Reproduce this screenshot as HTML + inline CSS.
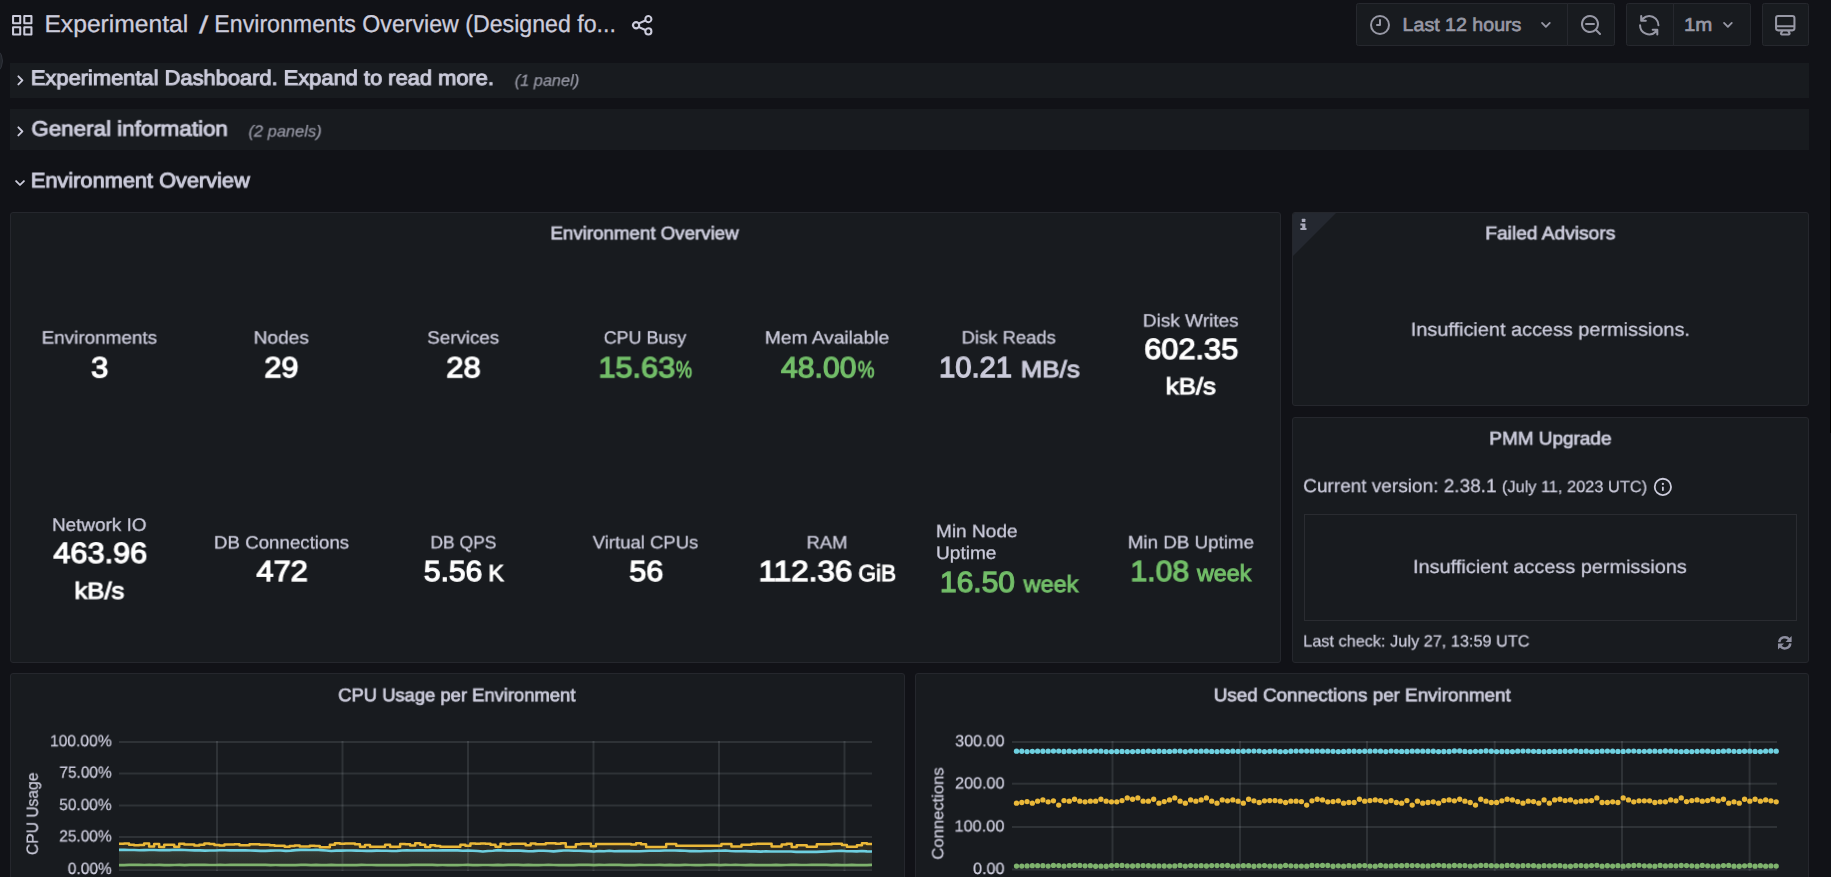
<!DOCTYPE html>
<html lang="en"><head><meta charset="utf-8"><title>Experimental / Environments Overview - Grafana</title>
<style>
html,body{margin:0;padding:0;width:1831px;height:877px;overflow:hidden;background:#111217}
body{position:relative;font-family:"Liberation Sans",sans-serif;color:rgb(204,204,220)}
.t{position:absolute;left:0;top:0;white-space:pre;line-height:1;transform-origin:0 0;text-rendering:geometricPrecision}
.p{position:absolute;box-sizing:border-box;background:#181b1f;border:1px solid #25272d;border-radius:3px}
.row{position:absolute;left:10px;width:1799px;background:#181b1f}
.btn{position:absolute;top:3px;height:43px;box-sizing:border-box;background:#181b1f;border:1px solid #26282e}
.ic{position:absolute;fill:currentColor}
.g{position:absolute;background:#2f3236}

</style></head><body>
<div style="position:absolute;left:-29px;top:45px;width:32px;height:32px;border-radius:16px;background:#22252b;border:1px solid #2f323a;box-sizing:border-box"></div>
<svg class="ic" style="left:9.75px;top:12.75px;color:rgb(204,204,220)" width="24.5" height="24.5" viewBox="0 0 24 24"><path d="M10,13H3a1,1,0,0,0-1,1v7a1,1,0,0,0,1,1h7a1,1,0,0,0,1-1V14A1,1,0,0,0,10,13ZM9,20H4V15H9ZM21,2H14a1,1,0,0,0-1,1v7a1,1,0,0,0,1,1h7a1,1,0,0,0,1-1V3A1,1,0,0,0,21,2ZM20,9H15V4h5Zm1,4H14a1,1,0,0,0-1,1v7a1,1,0,0,0,1,1h7a1,1,0,0,0,1-1V14A1,1,0,0,0,21,13Zm-1,7H15V15h5ZM10,2H3A1,1,0,0,0,2,3v7a1,1,0,0,0,1,1h7a1,1,0,0,0,1-1V3A1,1,0,0,0,10,2ZM9,9H4V4H9Z"/></svg>
<svg class="ic" style="left:630.25px;top:12.75px;color:rgb(204,204,220)" width="24.5" height="24.5" viewBox="0 0 24 24"><path d="M18,14a4,4,0,0,0-3.08,1.48l-5.1-2.35a3.64,3.64,0,0,0,0-2.26l5.1-2.35A4,4,0,1,0,14,6a4.17,4.17,0,0,0,.07.71L8.79,9.14a4,4,0,1,0,0,5.72l5.28,2.43A4.17,4.17,0,0,0,14,18a4,4,0,1,0,4-4ZM18,4a2,2,0,1,1-2,2A2,2,0,0,1,18,4ZM6,14a2,2,0,1,1,2-2A2,2,0,0,1,6,14Zm12,6a2,2,0,1,1,2-2A2,2,0,0,1,18,20Z"/></svg>
<div class="btn" style="left:1356px;width:212px;border-radius:2.5px 0 0 2.5px"></div>
<div class="btn" style="left:1567px;width:48px;border-radius:0 2.5px 2.5px 0"></div>
<div class="btn" style="left:1626px;width:48px;border-radius:2.5px 0 0 2.5px"></div>
<div class="btn" style="left:1673px;width:78px;border-radius:0 2.5px 2.5px 0"></div>
<div class="btn" style="left:1762px;width:47px;border-radius:2.5px"></div>
<svg class="ic" style="left:1368px;top:12.9px;color:rgb(151,152,165)" width="24" height="24" viewBox="0 0 24 24"><path d="M12,2A10,10,0,1,0,22,12,10.01114,10.01114,0,0,0,12,2Zm0,18a8,8,0,1,1,8-8A8.00917,8.00917,0,0,1,12,20ZM12,6a.99974.99974,0,0,0-1,1v4H9a1,1,0,0,0,0,2h3a.99974.99974,0,0,0,1-1V7A.99974.99974,0,0,0,12,6Z"/></svg>
<svg class="ic" style="left:1534.72px;top:13.97px;color:rgb(151,152,165)" width="21.76" height="21.76" viewBox="0 0 24 24"><path d="M17,9.17a1,1,0,0,0-1.41,0L12,12.71,8.46,9.17a1,1,0,0,0-1.41,0,1,1,0,0,0,0,1.42l4.24,4.24a1,1,0,0,0,1.42,0L17,10.59A1,1,0,0,0,17,9.17Z"/></svg>
<svg class="ic" style="left:1579px;top:13.1px;color:rgb(151,152,165)" width="24" height="24" viewBox="0 0 24 24"><path d="M21.71,20.29,18,16.61A9,9,0,1,0,16.61,18l3.68,3.68a1,1,0,0,0,1.42,0A1,1,0,0,0,21.71,20.29ZM11,18a7,7,0,1,1,7-7A7,7,0,0,1,11,18Zm4-8H7a1,1,0,0,0,0,2h8a1,1,0,0,0,0-2Z"/></svg>
<svg class="ic" style="left:1637.15px;top:12.65px;color:rgb(151,152,165)" width="24.5" height="24.5" viewBox="0 0 24 24"><path d="M19.91,15.51H15.38a1,1,0,0,0,0,2h2.4A8,8,0,0,1,4,12a1,1,0,0,0-2,0,10,10,0,0,0,16.88,7.23V21a1,1,0,0,0,2,0V16.5A1,1,0,0,0,19.91,15.51ZM12,2A10,10,0,0,0,5.12,4.77V3a1,1,0,0,0-2,0V7.5a1,1,0,0,0,1,1h4.5a1,1,0,0,0,0-2H6.22A8,8,0,0,1,20,12a1,1,0,0,0,2,0A10,10,0,0,0,12,2Z"/></svg>
<svg class="ic" style="left:1717.32px;top:14.12px;color:rgb(151,152,165)" width="21.76" height="21.76" viewBox="0 0 24 24"><path d="M17,9.17a1,1,0,0,0-1.41,0L12,12.71,8.46,9.17a1,1,0,0,0-1.41,0,1,1,0,0,0,0,1.42l4.24,4.24a1,1,0,0,0,1.42,0L17,10.59A1,1,0,0,0,17,9.17Z"/></svg>
<svg class="ic" style="left:1773.25px;top:12.75px;color:rgb(151,152,165)" width="24.5" height="24.5" viewBox="0 0 24 24"><path d="M19,2H5A3,3,0,0,0,2,5V15a3,3,0,0,0,3,3H7.64l-.58,1a2,2,0,0,0,0,2,2,2,0,0,0,1.75,1h6.46A2,2,0,0,0,17,21a2,2,0,0,0,0-2l-.59-1H19a3,3,0,0,0,3-3V5A3,3,0,0,0,19,2ZM8.77,20,10,18H14l1.2,2ZM20,15a1,1,0,0,1-1,1H5a1,1,0,0,1-1-1V14H20Zm0-3H4V5A1,1,0,0,1,5,4H19a1,1,0,0,1,1,1Z"/></svg>
<div class="row" style="top:63px;height:35px"></div>
<div class="row" style="top:109px;height:41px"></div>
<svg class="ic" style="left:8.95px;top:68.6px;color:rgb(204,204,220)" width="22.8" height="22.8" viewBox="0 0 24 24"><path d="M14.83,11.29,10.59,7.05a1,1,0,0,0-1.42,0,1,1,0,0,0,0,1.41L12.71,12,9.17,15.54a1,1,0,0,0,0,1.41,1,1,0,0,0,.71.29,1,1,0,0,0,.71-.29l4.24-4.24A1,1,0,0,0,14.83,11.29Z"/></svg>
<svg class="ic" style="left:8.95px;top:119.9px;color:rgb(204,204,220)" width="22.8" height="22.8" viewBox="0 0 24 24"><path d="M14.83,11.29,10.59,7.05a1,1,0,0,0-1.42,0,1,1,0,0,0,0,1.41L12.71,12,9.17,15.54a1,1,0,0,0,0,1.41,1,1,0,0,0,.71.29,1,1,0,0,0,.71-.29l4.24-4.24A1,1,0,0,0,14.83,11.29Z"/></svg>
<svg class="ic" style="left:9.4px;top:171.7px;color:rgb(204,204,220)" width="22" height="22" viewBox="0 0 24 24"><path d="M17,9.17a1,1,0,0,0-1.41,0L12,12.71,8.46,9.17a1,1,0,0,0-1.41,0,1,1,0,0,0,0,1.42l4.24,4.24a1,1,0,0,0,1.42,0L17,10.59A1,1,0,0,0,17,9.17Z"/></svg>
<div class="p" style="left:10px;top:212px;width:1271px;height:451px"></div>
<div class="p" style="left:1292px;top:212px;width:517px;height:194px;overflow:hidden"><svg style="position:absolute;left:-1px;top:-1px" width="46" height="46" viewBox="0 0 46 46"><path d="M0,0H45L0,45Z" fill="#242830"/><g fill="#a9aabb"><rect x="9.8" y="6.8" width="3.6" height="3.1" rx="0.5"/><path d="M8.4,11.4H13.4V16H14.5V18H8.4V16H10.2V13.4H8.4Z"/></g></svg></div>
<div class="p" style="left:1292px;top:417px;width:517px;height:246px"></div>
<div style="position:absolute;box-sizing:border-box;left:1304px;top:514px;width:493px;height:107px;border:1px solid #2a2c31"></div>
<svg class="ic" style="left:1651.92px;top:476.22px;color:rgb(204,204,220)" width="21.76" height="21.76" viewBox="0 0 24 24"><path d="M12,2A10,10,0,1,0,22,12,10.01114,10.01114,0,0,0,12,2Zm0,18a8,8,0,1,1,8-8A8.00917,8.00917,0,0,1,12,20Zm0-8.5a1,1,0,0,0-1,1v3a1,1,0,0,0,2,0v-3A1,1,0,0,0,12,11.5Zm0-4a1.25,1.25,0,1,0,1.25,1.25A1.25,1.25,0,0,0,12,7.5Z"/></svg>
<svg style="position:absolute;left:1777.4px;top:635.3px" width="15.6" height="15.6" viewBox="0 0 16 16"><g fill="none" stroke="#8e8fa0" stroke-width="2.5"><path d="M2.3,7.4A5.75,5.75 0 0 1 12.4,4.3"/><path d="M13.7,8.6A5.75,5.75 0 0 1 3.6,11.7"/></g><g fill="#8e8fa0"><path d="M15,1V7.2H8.8Z"/><path d="M1,15V8.8H7.2Z"/></g></svg>
<div class="p" style="left:10px;top:673px;width:895px;height:260px"></div>
<div class="p" style="left:915px;top:673px;width:894px;height:260px"></div>
<svg style="position:absolute;left:0;top:700px" width="1831" height="177" viewBox="0 700 1831 177">
<rect x="119" y="741" width="753" height="2" fill="rgb(240,250,255)" fill-opacity="0.105"/>
<rect x="119" y="772.5" width="753" height="2" fill="rgb(240,250,255)" fill-opacity="0.105"/>
<rect x="119" y="804.5" width="753" height="2" fill="rgb(240,250,255)" fill-opacity="0.105"/>
<rect x="119" y="836" width="753" height="2" fill="rgb(240,250,255)" fill-opacity="0.105"/>
<rect x="119" y="869" width="753" height="2" fill="rgb(240,250,255)" fill-opacity="0.105"/>
<rect x="216" y="741" width="2" height="130" fill="rgb(240,250,255)" fill-opacity="0.105"/>
<rect x="341.5" y="741" width="2" height="130" fill="rgb(240,250,255)" fill-opacity="0.105"/>
<rect x="467" y="741" width="2" height="130" fill="rgb(240,250,255)" fill-opacity="0.105"/>
<rect x="592.5" y="741" width="2" height="130" fill="rgb(240,250,255)" fill-opacity="0.105"/>
<rect x="718" y="741" width="2" height="130" fill="rgb(240,250,255)" fill-opacity="0.105"/>
<rect x="843.5" y="741" width="2" height="130" fill="rgb(240,250,255)" fill-opacity="0.105"/>
<defs><linearGradient id="gy" x1="0" y1="843" x2="0" y2="870" gradientUnits="userSpaceOnUse"><stop offset="0" stop-color="#eab839" stop-opacity="0.115"/><stop offset="1" stop-color="#eab839" stop-opacity="0.05"/></linearGradient><linearGradient id="gc" x1="0" y1="850" x2="0" y2="870" gradientUnits="userSpaceOnUse"><stop offset="0" stop-color="#6ed0e0" stop-opacity="0.10"/><stop offset="1" stop-color="#6ed0e0" stop-opacity="0.04"/></linearGradient></defs><path d="M119,843.8V843.8H124.02V843.49H129.04V844.66H134.06V845.23H139.08V844.93H144.1V843.56H149.12V846.51H154.14V844.09H159.16V846.99H164.18V844.79H169.2V844.79H174.22V846.63H179.24V843.78H184.26V844.43H189.28V844.43H194.3V845.53H199.32V844.69H204.34V843.45H209.36V844.02H214.38V844.91H219.4V845.54H224.42V844.4H229.44V844.4H234.46V844.18H239.48V845.3H244.5V845.3H249.52V844.35H254.54V844.35H259.56V844.87H264.58V844.87H269.6V845.16H274.62V845.87H279.64V845.87H284.66V846.7H289.68V845.98H294.7V845.52H299.72V846.56H304.74V846.56H309.76V845.86H314.78V846.01H319.8V847.17H324.82V847.17H329.84V844.74H334.86V843.29H339.88V843.87H344.9V843.44H349.92V843.44H354.94V844.19H359.96V846.69H364.98V845H370V846.73H375.02V846.73H380.04V846.73H385.06V844.86H390.08V846.74H395.1V846.74H400.12V843.9H405.14V844.13H410.16V845.56H415.18V843.22H420.2V844.68H425.22V847.01H430.24V845.26H435.26V845.9H440.28V846.8H445.3V846.8H450.32V846.8H455.34V846.8H460.36V844.8H465.38V845.74H470.4V843.47H475.42V843.85H480.44V843.41H485.46V843.81H490.48V844.65H495.5V846.7H500.52V843.79H505.54V844.59H510.56V843.69H515.58V843.69H520.6V843.69H525.62V845.14H530.64V843.61H535.66V844.26H540.68V844.26H545.7V843.29H550.72V843.29H555.74V843.79H560.76V843.31H565.78V847.11H570.8V847.11H575.82V844.24H580.84V843.87H585.86V843.87H590.88V846.32H595.9V844.09H600.92V844.09H605.94V844.09H610.96V844.09H615.98V844.09H621V844.09H626.02V844.11H631.04V844.62H636.06V843.31H641.08V844.24H646.1V847.03H651.12V846.95H656.14V846.95H661.16V846.95H666.18V844.08H671.2V843.99H676.22V845.7H681.24V845.7H686.26V845.7H691.28V845.81H696.3V845.81H701.32V845.84H706.34V845.84H711.36V845.84H716.38V845.84H721.4V843.91H726.42V843.91H731.44V846.4H736.46V846.4H741.48V844.81H746.5V844.81H751.52V843.88H756.54V843.8H761.56V843.8H766.58V843.8H771.6V846.51H776.62V846.51H781.64V844.6H786.66V843.72H791.68V847.08H796.7V845.31H801.72V845.31H806.74V846.69H811.76V846.69H816.78V844.21H821.8V844.16H826.82V844.24H831.84V843.72H836.86V843.72H841.88V845.03H846.9V846.82H851.92V846.87H856.94V845.33H861.96V843.27H866.98V843.93H872V870H119Z" fill="url(#gy)"/><path d="M119,849.83L124.05,849.7L129.11,849.99L134.16,849.95L139.21,850.2L144.27,850.12L149.32,850L154.38,850.02L159.43,850.3L164.48,850.06L169.54,850.08L174.59,849.77L179.64,849.88L184.7,850.02L189.75,850.18L194.81,850.37L199.86,850.37L204.91,850.62L209.97,850.56L215.02,850.48L220.07,850.25L225.13,850.3L230.18,850.36L235.23,850.34L240.29,850.36L245.34,850.25L250.4,850.55L255.45,850.66L260.5,850.91L265.56,850.92L270.61,850.67L275.66,850.49L280.72,850.5L285.77,850.86L290.83,850.62L295.88,850.14L300.93,849.91L305.99,849.88L311.04,849.96L316.09,849.75L321.15,850.12L326.2,850.46L331.26,850.96L336.31,850.66L341.36,850.63L346.42,850.5L351.47,850.51L356.52,850.62L361.58,850.81L366.63,850.87L371.68,850.92L376.74,850.59L381.79,850.76L386.85,850.79L391.9,851.07L396.95,850.88L402.01,850.56L407.06,850.38L412.11,850.49L417.17,850.36L422.22,850.26L427.28,850.5L432.33,850.4L437.38,850.55L442.44,850.4L447.49,850.41L452.54,850.28L457.6,850.4L462.65,850.71L467.7,850.56L472.76,850.79L477.81,850.97L482.87,851.52L487.92,851L492.97,850.7L498.03,850.15L503.08,850.57L508.13,850.58L513.19,850.64L518.24,850.44L523.3,850.84L528.35,851.26L533.4,851.17L538.46,850.73L543.51,850.8L548.56,851L553.62,851.34L558.67,850.85L563.72,850.55L568.78,850.56L573.83,850.77L578.89,850.79L583.94,850.95L588.99,851.09L594.05,851.53L599.1,851.03L604.15,851.18L609.21,850.75L614.26,851.22L619.32,850.99L624.37,851.17L629.42,850.99L634.48,851.29L639.53,851.25L644.58,851.01L649.64,850.78L654.69,850.78L659.74,850.77L664.8,850.57L669.85,850.46L674.91,850.53L679.96,850.63L685.01,850.79L690.07,851.14L695.12,851.14L700.17,851.26L705.23,850.93L710.28,850.97L715.34,850.69L720.39,850.75L725.44,850.56L730.5,851L735.55,851.19L740.6,851.3L745.66,851.16L750.71,851.4L755.77,851.36L760.82,851.58L765.87,851.29L770.93,851.53L775.98,851.55L781.03,851.54L786.09,851.56L791.14,851.48L796.19,851.85L801.25,851.76L806.3,851.85L811.36,851.7L816.41,851.89L821.46,851.64L826.52,851.44L831.57,851.1L836.62,850.94L841.68,850.79L846.73,851.21L851.79,851.3L856.84,851.36L861.89,850.98L866.95,851.34L872,851.53V870H119Z" fill="url(#gc)"/><path d="M119,865.11L124.05,865.05L129.11,864.93L134.16,864.92L139.21,864.94L144.27,864.99L149.32,864.9L154.38,864.98L159.43,864.93L164.48,865.14L169.54,865.14L174.59,865.01L179.64,864.92L184.7,865.14L189.75,864.94L194.81,864.96L199.86,864.85L204.91,864.96L209.97,864.99L215.02,865L220.07,864.91L225.13,865L230.18,864.85L235.23,864.93L240.29,864.88L245.34,864.97L250.4,864.86L255.45,864.86L260.5,864.94L265.56,864.92L270.61,865.03L275.66,865.01L280.72,865.08L285.77,865.05L290.83,865.06L295.88,865.11L300.93,864.97L305.99,864.95L311.04,865.15L316.09,864.89L321.15,865.07L326.2,865.04L331.26,864.86L336.31,865.1L341.36,865.12L346.42,865.04L351.47,865.07L356.52,865.09L361.58,864.89L366.63,865.01L371.68,865L376.74,865.1L381.79,865.09L386.85,865.1L391.9,865.03L396.95,865.12L402.01,865.05L407.06,865.06L412.11,864.92L417.17,864.86L422.22,864.89L427.28,864.96L432.33,864.88L437.38,865.1L442.44,865.02L447.49,865.04L452.54,865.04L457.6,865.05L462.65,865L467.7,864.85L472.76,865.09L477.81,865.07L482.87,865L487.92,865.01L492.97,865.05L498.03,864.87L503.08,865.07L508.13,864.93L513.19,864.87L518.24,864.93L523.3,865.07L528.35,864.91L533.4,865.07L538.46,865.14L543.51,865L548.56,864.96L553.62,864.99L558.67,865.06L563.72,865.08L568.78,865.04L573.83,865.04L578.89,864.87L583.94,864.89L588.99,864.93L594.05,865.07L599.1,864.94L604.15,865.02L609.21,864.85L614.26,864.87L619.32,864.93L624.37,865.05L629.42,865.06L634.48,865.05L639.53,864.94L644.58,865L649.64,864.99L654.69,864.99L659.74,864.89L664.8,865.12L669.85,864.91L674.91,865.14L679.96,865.13L685.01,864.86L690.07,864.99L695.12,865.1L700.17,865.14L705.23,864.98L710.28,864.93L715.34,864.91L720.39,865.13L725.44,864.91L730.5,865.02L735.55,864.89L740.6,865.01L745.66,865.14L750.71,864.89L755.77,865.1L760.82,865L765.87,865.12L770.93,865.06L775.98,864.92L781.03,865.12L786.09,865L791.14,864.86L796.19,864.85L801.25,865L806.3,864.99L811.36,864.94L816.41,864.89L821.46,864.95L826.52,864.94L831.57,865.1L836.62,864.85L841.68,865.08L846.73,865.1L851.79,864.89L856.84,865.13L861.89,865.06L866.95,865.12L872,864.94V870H119Z" fill="#181b1f" fill-opacity="0.45"/><path d="M119,843.8V843.8H124.02V843.49H129.04V844.66H134.06V845.23H139.08V844.93H144.1V843.56H149.12V846.51H154.14V844.09H159.16V846.99H164.18V844.79H169.2V844.79H174.22V846.63H179.24V843.78H184.26V844.43H189.28V844.43H194.3V845.53H199.32V844.69H204.34V843.45H209.36V844.02H214.38V844.91H219.4V845.54H224.42V844.4H229.44V844.4H234.46V844.18H239.48V845.3H244.5V845.3H249.52V844.35H254.54V844.35H259.56V844.87H264.58V844.87H269.6V845.16H274.62V845.87H279.64V845.87H284.66V846.7H289.68V845.98H294.7V845.52H299.72V846.56H304.74V846.56H309.76V845.86H314.78V846.01H319.8V847.17H324.82V847.17H329.84V844.74H334.86V843.29H339.88V843.87H344.9V843.44H349.92V843.44H354.94V844.19H359.96V846.69H364.98V845H370V846.73H375.02V846.73H380.04V846.73H385.06V844.86H390.08V846.74H395.1V846.74H400.12V843.9H405.14V844.13H410.16V845.56H415.18V843.22H420.2V844.68H425.22V847.01H430.24V845.26H435.26V845.9H440.28V846.8H445.3V846.8H450.32V846.8H455.34V846.8H460.36V844.8H465.38V845.74H470.4V843.47H475.42V843.85H480.44V843.41H485.46V843.81H490.48V844.65H495.5V846.7H500.52V843.79H505.54V844.59H510.56V843.69H515.58V843.69H520.6V843.69H525.62V845.14H530.64V843.61H535.66V844.26H540.68V844.26H545.7V843.29H550.72V843.29H555.74V843.79H560.76V843.31H565.78V847.11H570.8V847.11H575.82V844.24H580.84V843.87H585.86V843.87H590.88V846.32H595.9V844.09H600.92V844.09H605.94V844.09H610.96V844.09H615.98V844.09H621V844.09H626.02V844.11H631.04V844.62H636.06V843.31H641.08V844.24H646.1V847.03H651.12V846.95H656.14V846.95H661.16V846.95H666.18V844.08H671.2V843.99H676.22V845.7H681.24V845.7H686.26V845.7H691.28V845.81H696.3V845.81H701.32V845.84H706.34V845.84H711.36V845.84H716.38V845.84H721.4V843.91H726.42V843.91H731.44V846.4H736.46V846.4H741.48V844.81H746.5V844.81H751.52V843.88H756.54V843.8H761.56V843.8H766.58V843.8H771.6V846.51H776.62V846.51H781.64V844.6H786.66V843.72H791.68V847.08H796.7V845.31H801.72V845.31H806.74V846.69H811.76V846.69H816.78V844.21H821.8V844.16H826.82V844.24H831.84V843.72H836.86V843.72H841.88V845.03H846.9V846.82H851.92V846.87H856.94V845.33H861.96V843.27H866.98V843.93H872" fill="none" stroke="#eab839" stroke-width="2.5" stroke-linejoin="round"/><path d="M119,849.83L124.05,849.7L129.11,849.99L134.16,849.95L139.21,850.2L144.27,850.12L149.32,850L154.38,850.02L159.43,850.3L164.48,850.06L169.54,850.08L174.59,849.77L179.64,849.88L184.7,850.02L189.75,850.18L194.81,850.37L199.86,850.37L204.91,850.62L209.97,850.56L215.02,850.48L220.07,850.25L225.13,850.3L230.18,850.36L235.23,850.34L240.29,850.36L245.34,850.25L250.4,850.55L255.45,850.66L260.5,850.91L265.56,850.92L270.61,850.67L275.66,850.49L280.72,850.5L285.77,850.86L290.83,850.62L295.88,850.14L300.93,849.91L305.99,849.88L311.04,849.96L316.09,849.75L321.15,850.12L326.2,850.46L331.26,850.96L336.31,850.66L341.36,850.63L346.42,850.5L351.47,850.51L356.52,850.62L361.58,850.81L366.63,850.87L371.68,850.92L376.74,850.59L381.79,850.76L386.85,850.79L391.9,851.07L396.95,850.88L402.01,850.56L407.06,850.38L412.11,850.49L417.17,850.36L422.22,850.26L427.28,850.5L432.33,850.4L437.38,850.55L442.44,850.4L447.49,850.41L452.54,850.28L457.6,850.4L462.65,850.71L467.7,850.56L472.76,850.79L477.81,850.97L482.87,851.52L487.92,851L492.97,850.7L498.03,850.15L503.08,850.57L508.13,850.58L513.19,850.64L518.24,850.44L523.3,850.84L528.35,851.26L533.4,851.17L538.46,850.73L543.51,850.8L548.56,851L553.62,851.34L558.67,850.85L563.72,850.55L568.78,850.56L573.83,850.77L578.89,850.79L583.94,850.95L588.99,851.09L594.05,851.53L599.1,851.03L604.15,851.18L609.21,850.75L614.26,851.22L619.32,850.99L624.37,851.17L629.42,850.99L634.48,851.29L639.53,851.25L644.58,851.01L649.64,850.78L654.69,850.78L659.74,850.77L664.8,850.57L669.85,850.46L674.91,850.53L679.96,850.63L685.01,850.79L690.07,851.14L695.12,851.14L700.17,851.26L705.23,850.93L710.28,850.97L715.34,850.69L720.39,850.75L725.44,850.56L730.5,851L735.55,851.19L740.6,851.3L745.66,851.16L750.71,851.4L755.77,851.36L760.82,851.58L765.87,851.29L770.93,851.53L775.98,851.55L781.03,851.54L786.09,851.56L791.14,851.48L796.19,851.85L801.25,851.76L806.3,851.85L811.36,851.7L816.41,851.89L821.46,851.64L826.52,851.44L831.57,851.1L836.62,850.94L841.68,850.79L846.73,851.21L851.79,851.3L856.84,851.36L861.89,850.98L866.95,851.34L872,851.53" fill="none" stroke="#6ed0e0" stroke-width="2.6" stroke-linejoin="round"/><path d="M119,865.11L124.05,865.05L129.11,864.93L134.16,864.92L139.21,864.94L144.27,864.99L149.32,864.9L154.38,864.98L159.43,864.93L164.48,865.14L169.54,865.14L174.59,865.01L179.64,864.92L184.7,865.14L189.75,864.94L194.81,864.96L199.86,864.85L204.91,864.96L209.97,864.99L215.02,865L220.07,864.91L225.13,865L230.18,864.85L235.23,864.93L240.29,864.88L245.34,864.97L250.4,864.86L255.45,864.86L260.5,864.94L265.56,864.92L270.61,865.03L275.66,865.01L280.72,865.08L285.77,865.05L290.83,865.06L295.88,865.11L300.93,864.97L305.99,864.95L311.04,865.15L316.09,864.89L321.15,865.07L326.2,865.04L331.26,864.86L336.31,865.1L341.36,865.12L346.42,865.04L351.47,865.07L356.52,865.09L361.58,864.89L366.63,865.01L371.68,865L376.74,865.1L381.79,865.09L386.85,865.1L391.9,865.03L396.95,865.12L402.01,865.05L407.06,865.06L412.11,864.92L417.17,864.86L422.22,864.89L427.28,864.96L432.33,864.88L437.38,865.1L442.44,865.02L447.49,865.04L452.54,865.04L457.6,865.05L462.65,865L467.7,864.85L472.76,865.09L477.81,865.07L482.87,865L487.92,865.01L492.97,865.05L498.03,864.87L503.08,865.07L508.13,864.93L513.19,864.87L518.24,864.93L523.3,865.07L528.35,864.91L533.4,865.07L538.46,865.14L543.51,865L548.56,864.96L553.62,864.99L558.67,865.06L563.72,865.08L568.78,865.04L573.83,865.04L578.89,864.87L583.94,864.89L588.99,864.93L594.05,865.07L599.1,864.94L604.15,865.02L609.21,864.85L614.26,864.87L619.32,864.93L624.37,865.05L629.42,865.06L634.48,865.05L639.53,864.94L644.58,865L649.64,864.99L654.69,864.99L659.74,864.89L664.8,865.12L669.85,864.91L674.91,865.14L679.96,865.13L685.01,864.86L690.07,864.99L695.12,865.1L700.17,865.14L705.23,864.98L710.28,864.93L715.34,864.91L720.39,865.13L725.44,864.91L730.5,865.02L735.55,864.89L740.6,865.01L745.66,865.14L750.71,864.89L755.77,865.1L760.82,865L765.87,865.12L770.93,865.06L775.98,864.92L781.03,865.12L786.09,865L791.14,864.86L796.19,864.85L801.25,865L806.3,864.99L811.36,864.94L816.41,864.89L821.46,864.95L826.52,864.94L831.57,865.1L836.62,864.85L841.68,865.08L846.73,865.1L851.79,864.89L856.84,865.13L861.89,865.06L866.95,865.12L872,864.94" fill="none" stroke="#7eb26d" stroke-width="2.7"/>
</svg>
<svg style="position:absolute;left:0;top:700px" width="1831" height="177" viewBox="0 700 1831 177">
<rect x="1012" y="741" width="765" height="2" fill="rgb(240,250,255)" fill-opacity="0.105"/>
<rect x="1012" y="782.7" width="765" height="2" fill="rgb(240,250,255)" fill-opacity="0.105"/>
<rect x="1012" y="826" width="765" height="2" fill="rgb(240,250,255)" fill-opacity="0.105"/>
<rect x="1012" y="868.5" width="765" height="2" fill="rgb(240,250,255)" fill-opacity="0.105"/>
<rect x="1111.5" y="741" width="2" height="130" fill="rgb(240,250,255)" fill-opacity="0.105"/>
<rect x="1239" y="741" width="2" height="130" fill="rgb(240,250,255)" fill-opacity="0.105"/>
<rect x="1366" y="741" width="2" height="130" fill="rgb(240,250,255)" fill-opacity="0.105"/>
<rect x="1493.7" y="741" width="2" height="130" fill="rgb(240,250,255)" fill-opacity="0.105"/>
<rect x="1621" y="741" width="2" height="130" fill="rgb(240,250,255)" fill-opacity="0.105"/>
<rect x="1748.6" y="741" width="2" height="130" fill="rgb(240,250,255)" fill-opacity="0.105"/>
<g fill="#6ed0e0"><circle cx="1016.5" cy="751.22" r="2.65"/><circle cx="1021.78" cy="751.24" r="2.65"/><circle cx="1027.05" cy="751.6" r="2.65"/><circle cx="1032.33" cy="751.35" r="2.65"/><circle cx="1037.6" cy="751.22" r="2.65"/><circle cx="1042.88" cy="751.26" r="2.65"/><circle cx="1048.15" cy="751.17" r="2.65"/><circle cx="1053.43" cy="751.03" r="2.65"/><circle cx="1058.71" cy="751.06" r="2.65"/><circle cx="1063.98" cy="751.5" r="2.65"/><circle cx="1069.26" cy="751.17" r="2.65"/><circle cx="1074.53" cy="751.56" r="2.65"/><circle cx="1079.81" cy="751.15" r="2.65"/><circle cx="1085.08" cy="751.16" r="2.65"/><circle cx="1090.36" cy="751.31" r="2.65"/><circle cx="1095.64" cy="751.11" r="2.65"/><circle cx="1100.91" cy="751.22" r="2.65"/><circle cx="1106.19" cy="751.57" r="2.65"/><circle cx="1111.46" cy="751.53" r="2.65"/><circle cx="1116.74" cy="751.49" r="2.65"/><circle cx="1122.01" cy="751.38" r="2.65"/><circle cx="1127.29" cy="751.55" r="2.65"/><circle cx="1132.57" cy="751.56" r="2.65"/><circle cx="1137.84" cy="751.33" r="2.65"/><circle cx="1143.12" cy="751.43" r="2.65"/><circle cx="1148.39" cy="751.03" r="2.65"/><circle cx="1153.67" cy="751.44" r="2.65"/><circle cx="1158.94" cy="751.27" r="2.65"/><circle cx="1164.22" cy="751.45" r="2.65"/><circle cx="1169.5" cy="751.39" r="2.65"/><circle cx="1174.77" cy="751.17" r="2.65"/><circle cx="1180.05" cy="751.03" r="2.65"/><circle cx="1185.32" cy="751.56" r="2.65"/><circle cx="1190.6" cy="751.08" r="2.65"/><circle cx="1195.87" cy="751.28" r="2.65"/><circle cx="1201.15" cy="751.21" r="2.65"/><circle cx="1206.42" cy="751.18" r="2.65"/><circle cx="1211.7" cy="751.44" r="2.65"/><circle cx="1216.98" cy="751.59" r="2.65"/><circle cx="1222.25" cy="751.16" r="2.65"/><circle cx="1227.53" cy="751.39" r="2.65"/><circle cx="1232.8" cy="751.18" r="2.65"/><circle cx="1238.08" cy="751.33" r="2.65"/><circle cx="1243.35" cy="751.24" r="2.65"/><circle cx="1248.63" cy="751.1" r="2.65"/><circle cx="1253.91" cy="751.1" r="2.65"/><circle cx="1259.18" cy="751.12" r="2.65"/><circle cx="1264.46" cy="751.54" r="2.65"/><circle cx="1269.73" cy="751.3" r="2.65"/><circle cx="1275.01" cy="751.13" r="2.65"/><circle cx="1280.28" cy="751.54" r="2.65"/><circle cx="1285.56" cy="751.6" r="2.65"/><circle cx="1290.84" cy="751.27" r="2.65"/><circle cx="1296.11" cy="751.08" r="2.65"/><circle cx="1301.39" cy="751.12" r="2.65"/><circle cx="1306.66" cy="751.05" r="2.65"/><circle cx="1311.94" cy="751.21" r="2.65"/><circle cx="1317.21" cy="751.05" r="2.65"/><circle cx="1322.49" cy="751.14" r="2.65"/><circle cx="1327.77" cy="751.16" r="2.65"/><circle cx="1333.04" cy="751.34" r="2.65"/><circle cx="1338.32" cy="751.53" r="2.65"/><circle cx="1343.59" cy="751.45" r="2.65"/><circle cx="1348.87" cy="751.25" r="2.65"/><circle cx="1354.14" cy="751.25" r="2.65"/><circle cx="1359.42" cy="751.31" r="2.65"/><circle cx="1364.7" cy="751.23" r="2.65"/><circle cx="1369.97" cy="751.2" r="2.65"/><circle cx="1375.25" cy="751.04" r="2.65"/><circle cx="1380.52" cy="751.17" r="2.65"/><circle cx="1385.8" cy="751.58" r="2.65"/><circle cx="1391.07" cy="751.08" r="2.65"/><circle cx="1396.35" cy="751.3" r="2.65"/><circle cx="1401.63" cy="751.38" r="2.65"/><circle cx="1406.9" cy="751.52" r="2.65"/><circle cx="1412.18" cy="751.13" r="2.65"/><circle cx="1417.45" cy="751.16" r="2.65"/><circle cx="1422.73" cy="751.15" r="2.65"/><circle cx="1428" cy="751.24" r="2.65"/><circle cx="1433.28" cy="751.27" r="2.65"/><circle cx="1438.56" cy="751.57" r="2.65"/><circle cx="1443.83" cy="751.51" r="2.65"/><circle cx="1449.11" cy="751.52" r="2.65"/><circle cx="1454.38" cy="751.01" r="2.65"/><circle cx="1459.66" cy="751.02" r="2.65"/><circle cx="1464.93" cy="751.43" r="2.65"/><circle cx="1470.21" cy="751.54" r="2.65"/><circle cx="1475.49" cy="751.28" r="2.65"/><circle cx="1480.76" cy="751.35" r="2.65"/><circle cx="1486.04" cy="751" r="2.65"/><circle cx="1491.31" cy="751.23" r="2.65"/><circle cx="1496.59" cy="751.56" r="2.65"/><circle cx="1501.86" cy="751.5" r="2.65"/><circle cx="1507.14" cy="751.51" r="2.65"/><circle cx="1512.42" cy="751.58" r="2.65"/><circle cx="1517.69" cy="751.15" r="2.65"/><circle cx="1522.97" cy="751.07" r="2.65"/><circle cx="1528.24" cy="751.09" r="2.65"/><circle cx="1533.52" cy="751.31" r="2.65"/><circle cx="1538.79" cy="751.41" r="2.65"/><circle cx="1544.07" cy="751.56" r="2.65"/><circle cx="1549.35" cy="751.43" r="2.65"/><circle cx="1554.62" cy="751.39" r="2.65"/><circle cx="1559.9" cy="751.46" r="2.65"/><circle cx="1565.17" cy="751.27" r="2.65"/><circle cx="1570.45" cy="751.33" r="2.65"/><circle cx="1575.72" cy="751.02" r="2.65"/><circle cx="1581" cy="751.47" r="2.65"/><circle cx="1586.28" cy="751.14" r="2.65"/><circle cx="1591.55" cy="751.55" r="2.65"/><circle cx="1596.83" cy="751.39" r="2.65"/><circle cx="1602.1" cy="751.18" r="2.65"/><circle cx="1607.38" cy="751.08" r="2.65"/><circle cx="1612.65" cy="751.15" r="2.65"/><circle cx="1617.93" cy="751.38" r="2.65"/><circle cx="1623.2" cy="751.42" r="2.65"/><circle cx="1628.48" cy="751.07" r="2.65"/><circle cx="1633.76" cy="751.04" r="2.65"/><circle cx="1639.03" cy="751.31" r="2.65"/><circle cx="1644.31" cy="751.35" r="2.65"/><circle cx="1649.58" cy="751.23" r="2.65"/><circle cx="1654.86" cy="751.13" r="2.65"/><circle cx="1660.13" cy="751.36" r="2.65"/><circle cx="1665.41" cy="751.01" r="2.65"/><circle cx="1670.69" cy="751.18" r="2.65"/><circle cx="1675.96" cy="751.28" r="2.65"/><circle cx="1681.24" cy="751.58" r="2.65"/><circle cx="1686.51" cy="751.39" r="2.65"/><circle cx="1691.79" cy="751.53" r="2.65"/><circle cx="1697.06" cy="751.29" r="2.65"/><circle cx="1702.34" cy="751.14" r="2.65"/><circle cx="1707.62" cy="751.15" r="2.65"/><circle cx="1712.89" cy="751.58" r="2.65"/><circle cx="1718.17" cy="751.42" r="2.65"/><circle cx="1723.44" cy="751.18" r="2.65"/><circle cx="1728.72" cy="751.01" r="2.65"/><circle cx="1733.99" cy="751.3" r="2.65"/><circle cx="1739.27" cy="751.4" r="2.65"/><circle cx="1744.55" cy="751.25" r="2.65"/><circle cx="1749.82" cy="751.15" r="2.65"/><circle cx="1755.1" cy="751.4" r="2.65"/><circle cx="1760.37" cy="751.56" r="2.65"/><circle cx="1765.65" cy="751.14" r="2.65"/><circle cx="1770.92" cy="751.02" r="2.65"/><circle cx="1776.2" cy="751.2" r="2.65"/></g><g fill="#eab839"><circle cx="1016.5" cy="803.15" r="2.65"/><circle cx="1021.78" cy="802.5" r="2.65"/><circle cx="1027.05" cy="801.59" r="2.65"/><circle cx="1032.33" cy="803.15" r="2.65"/><circle cx="1037.6" cy="801.2" r="2.65"/><circle cx="1042.88" cy="799.9" r="2.65"/><circle cx="1048.15" cy="801.85" r="2.65"/><circle cx="1053.43" cy="800.81" r="2.65"/><circle cx="1058.71" cy="805.1" r="2.65"/><circle cx="1063.98" cy="800.55" r="2.65"/><circle cx="1069.26" cy="801.2" r="2.65"/><circle cx="1074.53" cy="799.25" r="2.65"/><circle cx="1079.81" cy="801.2" r="2.65"/><circle cx="1085.08" cy="801.85" r="2.65"/><circle cx="1090.36" cy="801.2" r="2.65"/><circle cx="1095.64" cy="801.2" r="2.65"/><circle cx="1100.91" cy="799.25" r="2.65"/><circle cx="1106.19" cy="801.2" r="2.65"/><circle cx="1111.46" cy="801.85" r="2.65"/><circle cx="1116.74" cy="801.85" r="2.65"/><circle cx="1122.01" cy="800.55" r="2.65"/><circle cx="1127.29" cy="797.95" r="2.65"/><circle cx="1132.57" cy="799.25" r="2.65"/><circle cx="1137.84" cy="797.95" r="2.65"/><circle cx="1143.12" cy="801.2" r="2.65"/><circle cx="1148.39" cy="801.2" r="2.65"/><circle cx="1153.67" cy="799.25" r="2.65"/><circle cx="1158.94" cy="803.15" r="2.65"/><circle cx="1164.22" cy="801.59" r="2.65"/><circle cx="1169.5" cy="799.9" r="2.65"/><circle cx="1174.77" cy="797.95" r="2.65"/><circle cx="1180.05" cy="801.2" r="2.65"/><circle cx="1185.32" cy="803.15" r="2.65"/><circle cx="1190.6" cy="799.9" r="2.65"/><circle cx="1195.87" cy="801.2" r="2.65"/><circle cx="1201.15" cy="799.9" r="2.65"/><circle cx="1206.42" cy="797.95" r="2.65"/><circle cx="1211.7" cy="801.2" r="2.65"/><circle cx="1216.98" cy="803.15" r="2.65"/><circle cx="1222.25" cy="799.9" r="2.65"/><circle cx="1227.53" cy="800.81" r="2.65"/><circle cx="1232.8" cy="799.9" r="2.65"/><circle cx="1238.08" cy="801.2" r="2.65"/><circle cx="1243.35" cy="803.15" r="2.65"/><circle cx="1248.63" cy="799.25" r="2.65"/><circle cx="1253.91" cy="800.81" r="2.65"/><circle cx="1259.18" cy="802.5" r="2.65"/><circle cx="1264.46" cy="800.81" r="2.65"/><circle cx="1269.73" cy="800.55" r="2.65"/><circle cx="1275.01" cy="800.55" r="2.65"/><circle cx="1280.28" cy="801.2" r="2.65"/><circle cx="1285.56" cy="802.5" r="2.65"/><circle cx="1290.84" cy="801.2" r="2.65"/><circle cx="1296.11" cy="801.2" r="2.65"/><circle cx="1301.39" cy="801.59" r="2.65"/><circle cx="1306.66" cy="805.1" r="2.65"/><circle cx="1311.94" cy="800.81" r="2.65"/><circle cx="1317.21" cy="799.25" r="2.65"/><circle cx="1322.49" cy="799.9" r="2.65"/><circle cx="1327.77" cy="801.85" r="2.65"/><circle cx="1333.04" cy="801.59" r="2.65"/><circle cx="1338.32" cy="800.81" r="2.65"/><circle cx="1343.59" cy="803.15" r="2.65"/><circle cx="1348.87" cy="802.5" r="2.65"/><circle cx="1354.14" cy="802.5" r="2.65"/><circle cx="1359.42" cy="799.25" r="2.65"/><circle cx="1364.7" cy="801.2" r="2.65"/><circle cx="1369.97" cy="800.55" r="2.65"/><circle cx="1375.25" cy="799.9" r="2.65"/><circle cx="1380.52" cy="800.55" r="2.65"/><circle cx="1385.8" cy="801.85" r="2.65"/><circle cx="1391.07" cy="800.55" r="2.65"/><circle cx="1396.35" cy="802.5" r="2.65"/><circle cx="1401.63" cy="803.15" r="2.65"/><circle cx="1406.9" cy="800.55" r="2.65"/><circle cx="1412.18" cy="805.1" r="2.65"/><circle cx="1417.45" cy="801.2" r="2.65"/><circle cx="1422.73" cy="803.15" r="2.65"/><circle cx="1428" cy="802.5" r="2.65"/><circle cx="1433.28" cy="801.85" r="2.65"/><circle cx="1438.56" cy="803.15" r="2.65"/><circle cx="1443.83" cy="800.55" r="2.65"/><circle cx="1449.11" cy="799.9" r="2.65"/><circle cx="1454.38" cy="800.81" r="2.65"/><circle cx="1459.66" cy="799.25" r="2.65"/><circle cx="1464.93" cy="801.2" r="2.65"/><circle cx="1470.21" cy="802.5" r="2.65"/><circle cx="1475.49" cy="805.1" r="2.65"/><circle cx="1480.76" cy="799.25" r="2.65"/><circle cx="1486.04" cy="801.2" r="2.65"/><circle cx="1491.31" cy="802.5" r="2.65"/><circle cx="1496.59" cy="802.5" r="2.65"/><circle cx="1501.86" cy="800.81" r="2.65"/><circle cx="1507.14" cy="799.25" r="2.65"/><circle cx="1512.42" cy="799.9" r="2.65"/><circle cx="1517.69" cy="801.59" r="2.65"/><circle cx="1522.97" cy="803.15" r="2.65"/><circle cx="1528.24" cy="801.2" r="2.65"/><circle cx="1533.52" cy="801.59" r="2.65"/><circle cx="1538.79" cy="803.15" r="2.65"/><circle cx="1544.07" cy="799.9" r="2.65"/><circle cx="1549.35" cy="803.15" r="2.65"/><circle cx="1554.62" cy="799.9" r="2.65"/><circle cx="1559.9" cy="799.25" r="2.65"/><circle cx="1565.17" cy="800.55" r="2.65"/><circle cx="1570.45" cy="799.9" r="2.65"/><circle cx="1575.72" cy="801.85" r="2.65"/><circle cx="1581" cy="801.2" r="2.65"/><circle cx="1586.28" cy="800.81" r="2.65"/><circle cx="1591.55" cy="800.55" r="2.65"/><circle cx="1596.83" cy="797.95" r="2.65"/><circle cx="1602.1" cy="802.5" r="2.65"/><circle cx="1607.38" cy="802.5" r="2.65"/><circle cx="1612.65" cy="801.85" r="2.65"/><circle cx="1617.93" cy="802.5" r="2.65"/><circle cx="1623.2" cy="797.95" r="2.65"/><circle cx="1628.48" cy="799.9" r="2.65"/><circle cx="1633.76" cy="801.85" r="2.65"/><circle cx="1639.03" cy="800.81" r="2.65"/><circle cx="1644.31" cy="800.81" r="2.65"/><circle cx="1649.58" cy="800.81" r="2.65"/><circle cx="1654.86" cy="802.5" r="2.65"/><circle cx="1660.13" cy="801.85" r="2.65"/><circle cx="1665.41" cy="801.85" r="2.65"/><circle cx="1670.69" cy="799.9" r="2.65"/><circle cx="1675.96" cy="800.81" r="2.65"/><circle cx="1681.24" cy="797.95" r="2.65"/><circle cx="1686.51" cy="801.59" r="2.65"/><circle cx="1691.79" cy="800.55" r="2.65"/><circle cx="1697.06" cy="799.9" r="2.65"/><circle cx="1702.34" cy="801.2" r="2.65"/><circle cx="1707.62" cy="800.55" r="2.65"/><circle cx="1712.89" cy="799.25" r="2.65"/><circle cx="1718.17" cy="800.81" r="2.65"/><circle cx="1723.44" cy="799.25" r="2.65"/><circle cx="1728.72" cy="803.15" r="2.65"/><circle cx="1733.99" cy="801.85" r="2.65"/><circle cx="1739.27" cy="803.15" r="2.65"/><circle cx="1744.55" cy="799.25" r="2.65"/><circle cx="1749.82" cy="801.2" r="2.65"/><circle cx="1755.1" cy="799.25" r="2.65"/><circle cx="1760.37" cy="801.2" r="2.65"/><circle cx="1765.65" cy="799.9" r="2.65"/><circle cx="1770.92" cy="800.81" r="2.65"/><circle cx="1776.2" cy="801.85" r="2.65"/></g><g fill="#7eb26d"><circle cx="1016.5" cy="866.09" r="2.65"/><circle cx="1021.78" cy="866.05" r="2.65"/><circle cx="1027.05" cy="865.9" r="2.65"/><circle cx="1032.33" cy="865.65" r="2.65"/><circle cx="1037.6" cy="865.64" r="2.65"/><circle cx="1042.88" cy="865.68" r="2.65"/><circle cx="1048.15" cy="866.05" r="2.65"/><circle cx="1053.43" cy="865.42" r="2.65"/><circle cx="1058.71" cy="865.53" r="2.65"/><circle cx="1063.98" cy="866.03" r="2.65"/><circle cx="1069.26" cy="865.57" r="2.65"/><circle cx="1074.53" cy="865.41" r="2.65"/><circle cx="1079.81" cy="865.38" r="2.65"/><circle cx="1085.08" cy="865.85" r="2.65"/><circle cx="1090.36" cy="865.64" r="2.65"/><circle cx="1095.64" cy="866.23" r="2.65"/><circle cx="1100.91" cy="866.15" r="2.65"/><circle cx="1106.19" cy="866.24" r="2.65"/><circle cx="1111.46" cy="865.59" r="2.65"/><circle cx="1116.74" cy="865.43" r="2.65"/><circle cx="1122.01" cy="865.44" r="2.65"/><circle cx="1127.29" cy="865.8" r="2.65"/><circle cx="1132.57" cy="865.99" r="2.65"/><circle cx="1137.84" cy="865.75" r="2.65"/><circle cx="1143.12" cy="865.56" r="2.65"/><circle cx="1148.39" cy="865.73" r="2.65"/><circle cx="1153.67" cy="865.91" r="2.65"/><circle cx="1158.94" cy="865.96" r="2.65"/><circle cx="1164.22" cy="866.02" r="2.65"/><circle cx="1169.5" cy="866.11" r="2.65"/><circle cx="1174.77" cy="865.95" r="2.65"/><circle cx="1180.05" cy="865.46" r="2.65"/><circle cx="1185.32" cy="866.11" r="2.65"/><circle cx="1190.6" cy="865.61" r="2.65"/><circle cx="1195.87" cy="865.86" r="2.65"/><circle cx="1201.15" cy="865.69" r="2.65"/><circle cx="1206.42" cy="866.01" r="2.65"/><circle cx="1211.7" cy="865.53" r="2.65"/><circle cx="1216.98" cy="865.57" r="2.65"/><circle cx="1222.25" cy="865.57" r="2.65"/><circle cx="1227.53" cy="865.49" r="2.65"/><circle cx="1232.8" cy="866.15" r="2.65"/><circle cx="1238.08" cy="865.87" r="2.65"/><circle cx="1243.35" cy="865.64" r="2.65"/><circle cx="1248.63" cy="865.71" r="2.65"/><circle cx="1253.91" cy="866.24" r="2.65"/><circle cx="1259.18" cy="865.81" r="2.65"/><circle cx="1264.46" cy="865.56" r="2.65"/><circle cx="1269.73" cy="866.08" r="2.65"/><circle cx="1275.01" cy="865.94" r="2.65"/><circle cx="1280.28" cy="866.24" r="2.65"/><circle cx="1285.56" cy="865.44" r="2.65"/><circle cx="1290.84" cy="865.78" r="2.65"/><circle cx="1296.11" cy="866.09" r="2.65"/><circle cx="1301.39" cy="866.11" r="2.65"/><circle cx="1306.66" cy="866.17" r="2.65"/><circle cx="1311.94" cy="865.39" r="2.65"/><circle cx="1317.21" cy="865.61" r="2.65"/><circle cx="1322.49" cy="865.46" r="2.65"/><circle cx="1327.77" cy="865.52" r="2.65"/><circle cx="1333.04" cy="866.23" r="2.65"/><circle cx="1338.32" cy="865.87" r="2.65"/><circle cx="1343.59" cy="866.19" r="2.65"/><circle cx="1348.87" cy="865.69" r="2.65"/><circle cx="1354.14" cy="866.13" r="2.65"/><circle cx="1359.42" cy="865.75" r="2.65"/><circle cx="1364.7" cy="865.58" r="2.65"/><circle cx="1369.97" cy="866.05" r="2.65"/><circle cx="1375.25" cy="866.2" r="2.65"/><circle cx="1380.52" cy="865.45" r="2.65"/><circle cx="1385.8" cy="865.89" r="2.65"/><circle cx="1391.07" cy="865.91" r="2.65"/><circle cx="1396.35" cy="865.55" r="2.65"/><circle cx="1401.63" cy="865.68" r="2.65"/><circle cx="1406.9" cy="865.48" r="2.65"/><circle cx="1412.18" cy="865.53" r="2.65"/><circle cx="1417.45" cy="865.58" r="2.65"/><circle cx="1422.73" cy="865.89" r="2.65"/><circle cx="1428" cy="865.94" r="2.65"/><circle cx="1433.28" cy="865.53" r="2.65"/><circle cx="1438.56" cy="865.36" r="2.65"/><circle cx="1443.83" cy="865.64" r="2.65"/><circle cx="1449.11" cy="865.96" r="2.65"/><circle cx="1454.38" cy="865.52" r="2.65"/><circle cx="1459.66" cy="865.63" r="2.65"/><circle cx="1464.93" cy="865.53" r="2.65"/><circle cx="1470.21" cy="866.07" r="2.65"/><circle cx="1475.49" cy="865.84" r="2.65"/><circle cx="1480.76" cy="865.41" r="2.65"/><circle cx="1486.04" cy="865.44" r="2.65"/><circle cx="1491.31" cy="865.71" r="2.65"/><circle cx="1496.59" cy="865.85" r="2.65"/><circle cx="1501.86" cy="865.93" r="2.65"/><circle cx="1507.14" cy="865.43" r="2.65"/><circle cx="1512.42" cy="865.5" r="2.65"/><circle cx="1517.69" cy="865.98" r="2.65"/><circle cx="1522.97" cy="865.72" r="2.65"/><circle cx="1528.24" cy="865.6" r="2.65"/><circle cx="1533.52" cy="865.63" r="2.65"/><circle cx="1538.79" cy="866.21" r="2.65"/><circle cx="1544.07" cy="865.63" r="2.65"/><circle cx="1549.35" cy="865.86" r="2.65"/><circle cx="1554.62" cy="865.67" r="2.65"/><circle cx="1559.9" cy="865.72" r="2.65"/><circle cx="1565.17" cy="866.13" r="2.65"/><circle cx="1570.45" cy="866.25" r="2.65"/><circle cx="1575.72" cy="865.68" r="2.65"/><circle cx="1581" cy="865.53" r="2.65"/><circle cx="1586.28" cy="866.01" r="2.65"/><circle cx="1591.55" cy="865.53" r="2.65"/><circle cx="1596.83" cy="865.36" r="2.65"/><circle cx="1602.1" cy="866.16" r="2.65"/><circle cx="1607.38" cy="865.73" r="2.65"/><circle cx="1612.65" cy="866.09" r="2.65"/><circle cx="1617.93" cy="865.72" r="2.65"/><circle cx="1623.2" cy="866.14" r="2.65"/><circle cx="1628.48" cy="865.76" r="2.65"/><circle cx="1633.76" cy="865.5" r="2.65"/><circle cx="1639.03" cy="865.36" r="2.65"/><circle cx="1644.31" cy="865.85" r="2.65"/><circle cx="1649.58" cy="865.93" r="2.65"/><circle cx="1654.86" cy="866.17" r="2.65"/><circle cx="1660.13" cy="865.43" r="2.65"/><circle cx="1665.41" cy="865.91" r="2.65"/><circle cx="1670.69" cy="865.68" r="2.65"/><circle cx="1675.96" cy="865.8" r="2.65"/><circle cx="1681.24" cy="865.48" r="2.65"/><circle cx="1686.51" cy="865.6" r="2.65"/><circle cx="1691.79" cy="865.82" r="2.65"/><circle cx="1697.06" cy="866.18" r="2.65"/><circle cx="1702.34" cy="865.45" r="2.65"/><circle cx="1707.62" cy="865.79" r="2.65"/><circle cx="1712.89" cy="866.07" r="2.65"/><circle cx="1718.17" cy="866.22" r="2.65"/><circle cx="1723.44" cy="865.53" r="2.65"/><circle cx="1728.72" cy="865.46" r="2.65"/><circle cx="1733.99" cy="866.2" r="2.65"/><circle cx="1739.27" cy="866.23" r="2.65"/><circle cx="1744.55" cy="865.78" r="2.65"/><circle cx="1749.82" cy="865.4" r="2.65"/><circle cx="1755.1" cy="866.18" r="2.65"/><circle cx="1760.37" cy="865.7" r="2.65"/><circle cx="1765.65" cy="866.16" r="2.65"/><circle cx="1770.92" cy="865.91" r="2.65"/><circle cx="1776.2" cy="866.09" r="2.65"/></g>
</svg>
<div style="position:absolute;left:1830px;top:140px;width:1px;height:293px;background:#000"></div>
<span class="t" style="font-size:24.86px;-webkit-text-stroke:0.3px rgb(204,204,220);transform:translate(44.41px,12.89px) scale(0.9919,0.9750)">Experimental</span>
<span class="t" style="font-size:24.86px;-webkit-text-stroke:0.3px rgb(204,204,220);transform:translate(198.97px,13.89px) scale(1.3429,0.9744)">/</span>
<span class="t" style="font-size:24.86px;-webkit-text-stroke:0.3px rgb(204,204,220);transform:translate(214.35px,12.89px) scale(0.9314,0.9755)">Environments Overview (Designed fo...</span>
<span class="t" style="font-size:18.73px;color:rgb(151,152,165);-webkit-text-stroke:0.65px rgb(151,152,165);transform:translate(1402.61px,15.79px) scale(1.0468,0.9989)">Last 12 hours</span>
<span class="t" style="font-size:18.73px;color:rgb(151,152,165);-webkit-text-stroke:0.65px rgb(151,152,165);transform:translate(1683.98px,15.79px) scale(1.0919,0.9986)">1m</span>
<span class="t" style="font-size:21.03px;-webkit-text-stroke:1.0px rgb(204,204,220);will-change:transform;transform:translate(30.83px,68.01px) scale(1.0405,0.9903)">Experimental Dashboard. Expand to read more.</span>
<span class="t" style="font-size:16.5px;color:rgb(151,152,165);font-style:italic;-webkit-text-stroke:0.25px rgb(151,152,165);will-change:transform;transform:translate(514.65px,73.04px) scale(0.9912,0.9761)">(1 panel)</span>
<span class="t" style="font-size:21.03px;-webkit-text-stroke:1.0px rgb(204,204,220);will-change:transform;transform:translate(31.35px,118.81px) scale(1.0648,0.9903)">General information</span>
<span class="t" style="font-size:16.5px;color:rgb(151,152,165);font-style:italic;-webkit-text-stroke:0.25px rgb(151,152,165);will-change:transform;transform:translate(248.45px,123.85px) scale(0.9969,0.9756)">(2 panels)</span>
<span class="t" style="font-size:21.03px;-webkit-text-stroke:1.0px rgb(204,204,220);will-change:transform;transform:translate(30.84px,170.51px) scale(1.0354,0.9903)">Environment Overview</span>
<span class="t" style="font-size:18.59px;-webkit-text-stroke:0.75px rgb(204,204,220);will-change:transform;transform:translate(550.4px,224.55px) scale(1.0076,0.9765)">Environment Overview</span>
<span class="t" style="font-size:18.59px;-webkit-text-stroke:0.75px rgb(204,204,220);will-change:transform;transform:translate(1485.3px,224.55px) scale(1.0320,0.9765)">Failed Advisors</span>
<span class="t" style="font-size:18.59px;-webkit-text-stroke:0.75px rgb(204,204,220);will-change:transform;transform:translate(1489.3px,429.75px) scale(1.0202,0.9765)">PMM Upgrade</span>
<span class="t" style="font-size:18.59px;-webkit-text-stroke:0.75px rgb(204,204,220);will-change:transform;transform:translate(338.18px,686.5px) scale(0.9899,0.9765)">CPU Usage per Environment</span>
<span class="t" style="font-size:18.59px;-webkit-text-stroke:0.75px rgb(204,204,220);will-change:transform;transform:translate(1213.73px,686.5px) scale(1.0126,0.9765)">Used Connections per Environment</span>
<span class="t" style="font-size:18.17px;-webkit-text-stroke:0.3px rgb(204,204,220);will-change:transform;transform:translate(41.6px,328.9px) scale(1.0407,0.9779)">Environments</span>
<span class="t" style="font-size:18.17px;-webkit-text-stroke:0.3px rgb(204,204,220);will-change:transform;transform:translate(253.6px,328.92px) scale(1.0529,0.9752)">Nodes</span>
<span class="t" style="font-size:18.17px;-webkit-text-stroke:0.3px rgb(204,204,220);will-change:transform;transform:translate(427.34px,328.92px) scale(1.0312,0.9758)">Services</span>
<span class="t" style="font-size:18.17px;-webkit-text-stroke:0.3px rgb(204,204,220);will-change:transform;transform:translate(603.77px,328.92px) scale(0.9837,0.9752)">CPU Busy</span>
<span class="t" style="font-size:18.17px;-webkit-text-stroke:0.3px rgb(204,204,220);will-change:transform;transform:translate(764.79px,328.92px) scale(1.0561,0.9752)">Mem Available</span>
<span class="t" style="font-size:18.17px;-webkit-text-stroke:0.3px rgb(204,204,220);will-change:transform;transform:translate(961.62px,328.8px) scale(1.0146,0.9776)">Disk Reads</span>
<span class="t" style="font-size:18.17px;-webkit-text-stroke:0.3px rgb(204,204,220);will-change:transform;transform:translate(1142.8px,311.92px) scale(1.0481,0.9752)">Disk Writes</span>
<span class="t" style="font-size:18.17px;-webkit-text-stroke:0.3px rgb(204,204,220);will-change:transform;transform:translate(52.11px,516.1px) scale(1.0390,0.9776)">Network IO</span>
<span class="t" style="font-size:18.17px;-webkit-text-stroke:0.3px rgb(204,204,220);will-change:transform;transform:translate(213.91px,533.8px) scale(1.0304,0.9773)">DB Connections</span>
<span class="t" style="font-size:18.17px;-webkit-text-stroke:0.3px rgb(204,204,220);will-change:transform;transform:translate(430.44px,533.72px) scale(0.9605,0.9758)">DB QPS</span>
<span class="t" style="font-size:18.17px;-webkit-text-stroke:0.3px rgb(204,204,220);will-change:transform;transform:translate(592.73px,533.72px) scale(1.0180,0.9752)">Virtual CPUs</span>
<span class="t" style="font-size:18.17px;-webkit-text-stroke:0.3px rgb(204,204,220);will-change:transform;transform:translate(806.53px,533.76px) scale(1.0159,0.9746)">RAM</span>
<span class="t" style="font-size:18.17px;-webkit-text-stroke:0.3px rgb(204,204,220);will-change:transform;transform:translate(935.9px,522.52px) scale(1.0503,0.9752)">Min Node</span>
<span class="t" style="font-size:18.17px;-webkit-text-stroke:0.3px rgb(204,204,220);will-change:transform;transform:translate(935.94px,544.22px) scale(1.0506,0.9752)">Uptime</span>
<span class="t" style="font-size:18.17px;-webkit-text-stroke:0.3px rgb(204,204,220);will-change:transform;transform:translate(1127.81px,533.62px) scale(1.0330,0.9758)">Min DB Uptime</span>
<span class="t" style="font-size:29.19px;color:#ffffff;-webkit-text-stroke:1.25px #ffffff;will-change:transform;transform:translate(91.14px,354.46px) scale(1.0578,0.9865)">3</span>
<span class="t" style="font-size:29.19px;color:#ffffff;-webkit-text-stroke:1.25px #ffffff;will-change:transform;transform:translate(264.36px,354.46px) scale(1.0545,0.9865)">29</span>
<span class="t" style="font-size:29.19px;color:#ffffff;-webkit-text-stroke:1.25px #ffffff;will-change:transform;transform:translate(446.26px,354.46px) scale(1.0577,0.9865)">28</span>
<span class="t" style="font-size:29.19px;color:#73bf69;-webkit-text-stroke:1.25px #73bf69;will-change:transform;transform:translate(598.49px,354.46px) scale(1.0505,0.9865)">15.63</span>
<span class="t" style="font-size:23.35px;color:#73bf69;-webkit-text-stroke:1.0px #73bf69;will-change:transform;transform:translate(675.86px,358.47px) scale(0.7807,0.9939)">%</span>
<span class="t" style="font-size:29.19px;color:#73bf69;-webkit-text-stroke:1.25px #73bf69;will-change:transform;transform:translate(780.97px,354.46px) scale(1.0344,0.9865)">48.00</span>
<span class="t" style="font-size:23.35px;color:#73bf69;-webkit-text-stroke:1.0px #73bf69;will-change:transform;transform:translate(857.75px,358.47px) scale(0.8035,0.9939)">%</span>
<span class="t" style="font-size:29.19px;-webkit-text-stroke:1.25px rgb(204,204,220);will-change:transform;transform:translate(939.06px,354.26px) scale(0.9991,0.9865)">10.21</span>
<span class="t" style="font-size:23.35px;-webkit-text-stroke:1.0px rgb(204,204,220);will-change:transform;transform:translate(1020.67px,358.27px) scale(1.1119,0.9939)">MB/s</span>
<span class="t" style="font-size:29.19px;color:#ffffff;-webkit-text-stroke:1.25px #ffffff;will-change:transform;transform:translate(1144.19px,336.06px) scale(1.0538,0.9865)">602.35</span>
<span class="t" style="font-size:23.35px;color:#ffffff;-webkit-text-stroke:1.0px #ffffff;will-change:transform;transform:translate(1165.69px,375.27px) scale(1.1068,0.9939)">kB/s</span>
<span class="t" style="font-size:29.19px;color:#ffffff;-webkit-text-stroke:1.25px #ffffff;will-change:transform;transform:translate(53.37px,539.96px) scale(1.0498,0.9865)">463.96</span>
<span class="t" style="font-size:23.35px;color:#ffffff;-webkit-text-stroke:1.0px #ffffff;will-change:transform;transform:translate(74.5px,579.77px) scale(1.1005,0.9939)">kB/s</span>
<span class="t" style="font-size:29.19px;color:#ffffff;-webkit-text-stroke:1.25px #ffffff;will-change:transform;transform:translate(256.47px,558.16px) scale(1.0557,0.9865)">472</span>
<span class="t" style="font-size:29.19px;color:#ffffff;-webkit-text-stroke:1.25px #ffffff;will-change:transform;transform:translate(423.84px,558.16px) scale(1.0264,0.9865)">5.56</span>
<span class="t" style="font-size:23.35px;color:#ffffff;-webkit-text-stroke:1.0px #ffffff;will-change:transform;transform:translate(488.37px,562.17px) scale(0.9891,0.9939)">K</span>
<span class="t" style="font-size:29.19px;color:#ffffff;-webkit-text-stroke:1.25px #ffffff;will-change:transform;transform:translate(629.32px,558.16px) scale(1.0415,0.9865)">56</span>
<span class="t" style="font-size:29.19px;color:#ffffff;-webkit-text-stroke:1.25px #ffffff;will-change:transform;transform:translate(758.65px,558.16px) scale(1.0752,0.9865)">112.36</span>
<span class="t" style="font-size:23.35px;color:#ffffff;-webkit-text-stroke:1.0px #ffffff;will-change:transform;transform:translate(858.31px,562.17px) scale(0.9713,0.9939)">GiB</span>
<span class="t" style="font-size:29.19px;color:#73bf69;-webkit-text-stroke:1.25px #73bf69;will-change:transform;transform:translate(939.92px,569.06px) scale(1.0263,0.9865)">16.50</span>
<span class="t" style="font-size:23.35px;color:#73bf69;-webkit-text-stroke:1.0px #73bf69;will-change:transform;transform:translate(1023.6px,573.07px) scale(1.0019,0.9939)">week</span>
<span class="t" style="font-size:29.19px;color:#73bf69;-webkit-text-stroke:1.25px #73bf69;will-change:transform;transform:translate(1130.41px,558.16px) scale(1.0346,0.9865)">1.08</span>
<span class="t" style="font-size:23.35px;color:#73bf69;-webkit-text-stroke:1.0px #73bf69;will-change:transform;transform:translate(1197.06px,562.17px) scale(0.9956,0.9939)">week</span>
<span class="t" style="font-size:19.24px;-webkit-text-stroke:0.3px rgb(204,204,220);will-change:transform;transform:translate(1410.8px,321.19px) scale(1.0333,0.9666)">Insufficient access permissions.</span>
<span class="t" style="font-size:19.24px;-webkit-text-stroke:0.3px rgb(204,204,220);will-change:transform;transform:translate(1303.13px,477.59px) scale(0.9887,0.9666)">Current version: 2.38.1</span>
<span class="t" style="font-size:16.5px;-webkit-text-stroke:0.25px rgb(204,204,220);will-change:transform;transform:translate(1501.88px,479.39px) scale(0.9913,0.9747)">(July 11, 2023 UTC)</span>
<span class="t" style="font-size:19.24px;-webkit-text-stroke:0.3px rgb(204,204,220);will-change:transform;transform:translate(1413.11px,558.49px) scale(1.0339,0.9666)">Insufficient access permissions</span>
<span class="t" style="font-size:16.5px;-webkit-text-stroke:0.25px rgb(204,204,220);will-change:transform;transform:translate(1303.19px,633.75px) scale(0.9875,0.9772)">Last check: July 27, 13:59 UTC</span>
<span class="t" style="font-size:16.5px;-webkit-text-stroke:0.25px rgb(204,204,220);will-change:transform;transform:translate(49.92px,733.55px) scale(0.9484,0.9763)">100.00%</span>
<span class="t" style="font-size:16.5px;-webkit-text-stroke:0.25px rgb(204,204,220);will-change:transform;transform:translate(59.36px,764.94px) scale(0.9348,0.9762)">75.00%</span>
<span class="t" style="font-size:16.5px;-webkit-text-stroke:0.25px rgb(204,204,220);will-change:transform;transform:translate(59.22px,797.39px) scale(0.9361,0.9751)">50.00%</span>
<span class="t" style="font-size:16.5px;-webkit-text-stroke:0.25px rgb(204,204,220);will-change:transform;transform:translate(59.23px,828.74px) scale(0.9366,0.9762)">25.00%</span>
<span class="t" style="font-size:16.5px;-webkit-text-stroke:0.25px rgb(204,204,220);will-change:transform;transform:translate(67.77px,861.23px) scale(0.9428,0.9777)">0.00%</span>
<span class="t" style="font-size:16.5px;-webkit-text-stroke:0.25px rgb(204,204,220);will-change:transform;transform:translate(955.1px,733.61px) scale(0.9809,0.9730)">300.00</span>
<span class="t" style="font-size:16.5px;-webkit-text-stroke:0.25px rgb(204,204,220);will-change:transform;transform:translate(955.01px,775.79px) scale(0.9826,0.9756)">200.00</span>
<span class="t" style="font-size:16.5px;-webkit-text-stroke:0.25px rgb(204,204,220);will-change:transform;transform:translate(954.41px,818.75px) scale(0.9932,0.9758)">100.00</span>
<span class="t" style="font-size:16.5px;-webkit-text-stroke:0.25px rgb(204,204,220);will-change:transform;transform:translate(973.06px,861.28px) scale(0.9762,0.9742)">0.00</span>
<span class="t" style="font-size:16.5px;-webkit-text-stroke:0.25px rgb(204,204,220);will-change:transform;transform:translate(25.05px,855.03px) rotate(-90deg) scale(0.9467,0.9753)">CPU Usage</span>
<span class="t" style="font-size:16.5px;-webkit-text-stroke:0.25px rgb(204,204,220);will-change:transform;transform:translate(930.58px,859.62px) rotate(-90deg) scale(1.0059,0.9742)">Connections</span>
</body></html>
